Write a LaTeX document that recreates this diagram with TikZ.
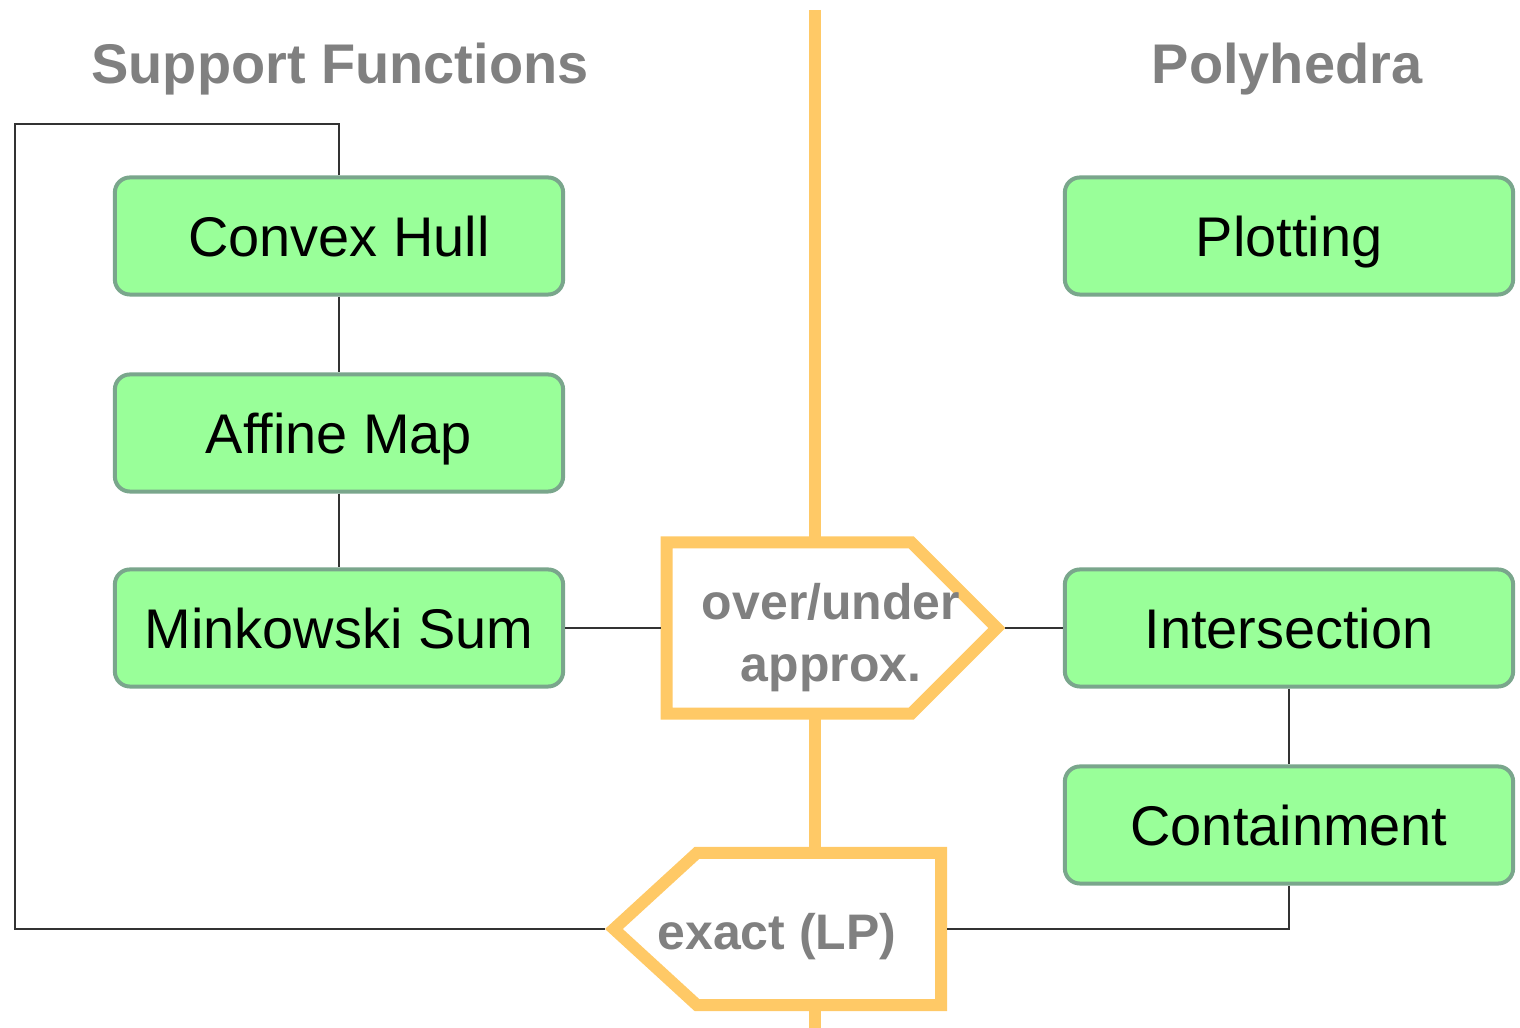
\documentclass[tikz,border=0pt]{standalone}
\usepackage{fontspec}
\setmainfont{Liberation Sans}
\usetikzlibrary{shapes.symbols}
\definecolor{boxgreen}{RGB}{153,255,153}
\definecolor{boxedge}{RGB}{122,166,140}
\definecolor{lineorange}{RGB}{255,201,102}
\definecolor{labelgray}{RGB}{128,128,128}

\begin{document}
\begin{tikzpicture}
  [x=0.01cm,y=-0.01cm,
   op/.style={fill=boxgreen, draw=boxedge, line width=0.04cm, rounded corners=0.15cm,
     minimum width=4.48cm, minimum height=1.17cm, text height=11.4pt, text depth=0pt,
     font=\fontsize{15.9}{19}\selectfont},
   heading/.style={text=labelgray, font=\bfseries\fontsize{15.9}{19}\selectfont},
   gate/.style={signal, fill=white, draw=lineorange, line width=0.12cm, inner sep=0pt},
   gatetext/.style={text=labelgray, align=center, inner sep=0pt,
     font=\bfseries\fontsize{14.2}{17.6}\selectfont},
   wire/.style={draw=black!80, line width=0.02cm}]
  \useasboundingbox (0,0) rectangle (1520,1028);

  % the split between the two sides
  \coordinate (top) at (815,10);
  \coordinate (bottom) at (815,1028);
  \draw[lineorange, line width=0.12cm] (top) -- (bottom);

  \node[heading] (sf) at (340,69) {Support Functions};
  \node[heading] (ph) at (1287,69) {Polyhedra};

  \node[op] (hull) at (339,236) {Convex Hull};
  \node[op] (affine) at (339,433) {Affine Map};
  \node[op] (sum) at (339,628) {Minkowski Sum};
  \node[op] (plot) at (1289,236) {Plotting};
  \node[op] (cap) at (1289,628) {Intersection};
  \node[op] (contain) at (1289,825) {Containment};

  \node[gate, signal to=east, signal pointer angle=90,
    minimum width=3.30cm, minimum height=1.71cm] (approx) at (789,628) {};
  \node[gatetext] (approxtext) at (831,638) {over/under\\approx.};
  \node[gate, signal to=west, signal pointer angle=85,
    minimum width=3.27cm, minimum height=1.52cm] (exact) at (819,929) {};
  \node[gatetext] (exacttext) at (777,937) {exact (LP)};

  \coordinate (loop) at (15,124);

  \foreach \from/\to in {hull/affine, affine/sum, cap/contain, sum/approx, approx/cap}
    \draw[wire] (\from) -- (\to);
  \draw[wire] (hull.north) |- (loop) |- (exact.west);
  \draw[wire] (contain.south) |- (exact.east);
\end{tikzpicture}
\end{document}
